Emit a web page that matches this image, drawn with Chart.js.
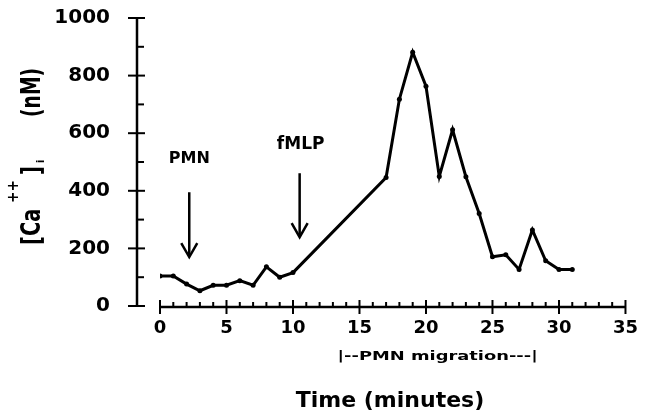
<!DOCTYPE html>
<html>
<head>
<meta charset="utf-8">
<script src="https://cdn.jsdelivr.net/npm/chart.js@4.4.1/dist/chart.umd.min.js"></script>
<style>
  html, body { margin: 0; padding: 0; background: #fff; }
  #wrap { width: 650px; height: 418px; }
</style>
</head>
<body>
<div id="wrap"><canvas id="c" width="650" height="418"></canvas></div>
<script>
// ---- data ----
const timeMinutes = [0, 1, 2, 3, 4, 5, 6, 7, 8, 9, 10, 17, 18, 19, 20, 21, 22, 23, 24, 25, 26, 27, 28, 29, 30, 31];
const calciumNM   = [104, 104, 76, 53, 72, 72, 88, 72, 136, 100, 116, 446, 718, 881, 763, 450, 612, 449, 321, 171, 178, 127, 264, 157, 127, 127];
const xTickValues = [0, 5, 10, 15, 20, 25, 30, 35];
const yTickValues = [0, 200, 400, 600, 800, 1000];
const arrowLabels = ['PMN', 'fMLP'];
const arrowTimes  = [2.2, 10.5];
const arrowTops   = [395, 461];
const arrowTips   = [170, 239];
const labelValues = [512, 561];
const migrationLabel = '|--PMN migration---|';
const migrationStart = 13.35;
const migrationEnd = 28.4;
const xTitle = 'Time (minutes)';

const FONT = '"DejaVu Sans", "Liberation Sans", sans-serif';

function scaledText(ctx, text, x, y, font, sx) {
  ctx.save();
  ctx.font = font;
  ctx.translate(x, y);
  ctx.scale(sx, 1);
  ctx.fillText(text, 0, 0);
  ctx.restore();
}

const decorPlugin = {
  id: 'decor',
  beforeDatasetsDraw(chart) {
    const ctx = chart.ctx;
    const xs = chart.scales.x, ys = chart.scales.y;
    const a = chart.chartArea;
    ctx.save();
    ctx.strokeStyle = '#000';
    ctx.lineCap = 'butt';
    // y axis (offset to the left of the plot)
    const yAxisX = a.left - 23;
    ctx.lineWidth = 2.5;
    ctx.beginPath();
    ctx.moveTo(yAxisX, ys.getPixelForValue(1000));
    ctx.lineTo(yAxisX, ys.getPixelForValue(0));
    ctx.stroke();
    ctx.lineWidth = 2;
    for (let v = 0; v <= 1000; v += 100) {
      const py = ys.getPixelForValue(v);
      ctx.beginPath();
      if (v % 200 === 0) { ctx.moveTo(yAxisX - 9, py); ctx.lineTo(yAxisX + 8, py); }
      else { ctx.moveTo(yAxisX, py); ctx.lineTo(yAxisX + 7, py); }
      ctx.stroke();
    }
    // x axis
    const xAxisY = ys.getPixelForValue(0) + 1;
    ctx.lineWidth = 2.5;
    ctx.beginPath();
    ctx.moveTo(xs.getPixelForValue(0), xAxisY);
    ctx.lineTo(xs.getPixelForValue(35), xAxisY);
    ctx.stroke();
    ctx.lineWidth = 2;
    for (let t = 0; t <= 35; t += 1) {
      const px = xs.getPixelForValue(t);
      ctx.beginPath();
      if (t % 5 === 0) { ctx.moveTo(px, xAxisY - 7); ctx.lineTo(px, xAxisY + 7); }
      else { ctx.moveTo(px, xAxisY - 5); ctx.lineTo(px, xAxisY); }
      ctx.stroke();
    }
    // arrows and their labels
    ctx.fillStyle = '#000';
    ctx.textAlign = 'center';
    ctx.textBaseline = 'middle';
    arrowLabels.forEach((lab, i) => {
      const px = xs.getPixelForValue(arrowTimes[i]);
      const top = ys.getPixelForValue(arrowTops[i]);
      const tip = ys.getPixelForValue(arrowTips[i]);
      ctx.lineWidth = 2.5;
      ctx.beginPath();
      ctx.moveTo(px, top); ctx.lineTo(px, tip - 1);
      ctx.stroke();
      ctx.beginPath();
      ctx.moveTo(px - 8, tip - 14); ctx.lineTo(px, tip); ctx.lineTo(px + 8, tip - 14);
      ctx.stroke();
      ctx.font = 'bold ' + (i === 0 ? 16 : 17) + 'px ' + FONT;
      ctx.fillText(lab, px + (i === 0 ? 0 : 1), ys.getPixelForValue(labelValues[i]));
    });
    // migration label (stretched)
    const m0 = xs.getPixelForValue(migrationStart), m1 = xs.getPixelForValue(migrationEnd);
    ctx.font = 'bold 11px ' + FONT;
    const w = ctx.measureText(migrationLabel).width;
    ctx.save();
    ctx.translate(m0, 357);
    ctx.scale((m1 - m0) / w, 1.1);
    ctx.textAlign = 'left';
    ctx.fillText(migrationLabel, 0, 0);
    ctx.restore();
    // x title
    ctx.font = 'bold 22px ' + FONT;
    ctx.textAlign = 'center';
    ctx.fillText(xTitle, 390, 401);
    // y title with super/subscripts, rotated
    ctx.save();
    ctx.translate(40, 245);
    ctx.rotate(-Math.PI / 2);
    ctx.textAlign = 'left';
    ctx.textBaseline = 'alphabetic';
    const big = 'bold 26px ' + FONT;
    scaledText(ctx, '[Ca', 0, 0, big, 0.75);
    scaledText(ctx, '++', 42, -22, 'bold 16px ' + FONT, 0.85);
    scaledText(ctx, ']', 70, 0, big, 0.75);
    scaledText(ctx, 'i', 82, 4, 'bold 10px ' + FONT, 1);
    scaledText(ctx, '(nM)', 128, 0, big, 0.72);
    ctx.restore();
    ctx.restore();
  }
};

new Chart(document.getElementById('c'), {
  type: 'line',
  data: {
    datasets: [{
      data: timeMinutes.map((t, i) => ({ x: t, y: calciumNM[i] })),
      borderColor: '#000',
      backgroundColor: '#000',
      borderWidth: 3,
      pointRadius: 2.5,
      pointBorderWidth: 0,
      tension: 0,
      fill: false
    }]
  },
  options: {
    responsive: false,
    animation: false,
    events: [],
    layout: { padding: { left: 0, top: 18, right: 13, bottom: 0 } },
    plugins: { legend: { display: false }, tooltip: { enabled: false } },
    scales: {
      x: {
        type: 'linear', min: 0, max: 35,
        afterBuildTicks(s) { s.ticks = xTickValues.map(v => ({ value: v })); },
        afterFit(s) { s.height = 112; s.paddingTop = 0; },
        grid: { display: false, drawTicks: false },
        border: { display: false },
        ticks: { padding: 12, color: '#000', font: { family: FONT, size: 18, weight: 'bold' }, maxRotation: 0,
                 callback: v => String(v) }
      },
      y: {
        type: 'linear', min: 0, max: 1000,
        afterBuildTicks(s) { s.ticks = yTickValues.map(v => ({ value: v })); },
        afterFit(s) { s.width = 160; s.paddingTop = 0; s.paddingBottom = 0; },
        grid: { display: false, drawTicks: false },
        border: { display: false },
        ticks: { padding: 50, color: '#000', font: { family: FONT, size: 20, weight: 'bold' },
                 callback: v => String(v) }
      }
    }
  },
  plugins: [decorPlugin]
});
</script>
</body>
</html>
